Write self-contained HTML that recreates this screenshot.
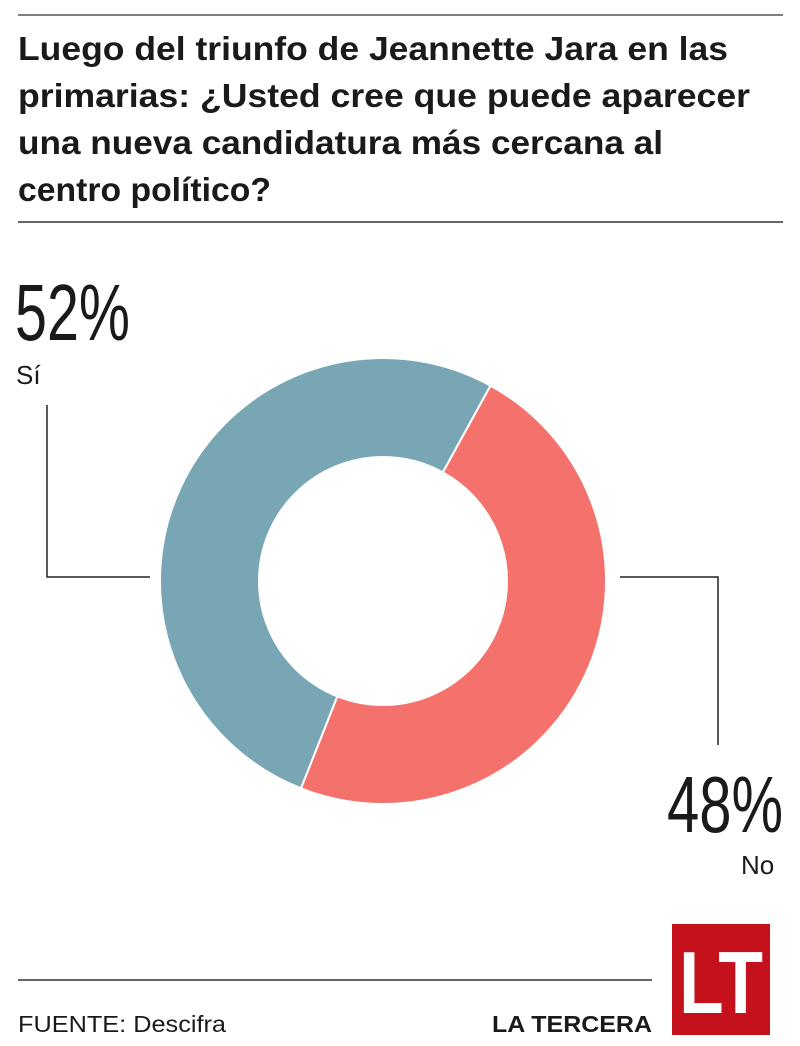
<!DOCTYPE html>
<html><head><meta charset="utf-8"><style>
html,body{margin:0;padding:0;background:#fff;}
svg{display:block;}
text{font-family:"Liberation Sans",sans-serif;fill:#1a1a1a;}
</style></head><body>
<svg width="800" height="1046" viewBox="0 0 800 1046">
<line x1="18" y1="15" x2="783" y2="15" stroke="#555" stroke-width="1.5"/>
<g font-weight="bold" font-size="33">
<text x="18" y="60" textLength="710" lengthAdjust="spacingAndGlyphs">Luego del triunfo de Jeannette Jara en las</text>
<text x="18" y="107" textLength="732" lengthAdjust="spacingAndGlyphs">primarias: ¿Usted cree que puede aparecer</text>
<text x="18" y="154" textLength="645" lengthAdjust="spacingAndGlyphs">una nueva candidatura más cercana al</text>
<text x="18" y="201" textLength="253" lengthAdjust="spacingAndGlyphs">centro político?</text>
</g>
<line x1="18" y1="222" x2="783" y2="222" stroke="#333" stroke-width="1.5"/>
<g id="slices"></g>
<polyline points="47,405 47,577 150,577" fill="none" stroke="#222" stroke-width="1.5"/>
<polyline points="620,577 718,577 718,745" fill="none" stroke="#222" stroke-width="1.5"/>
<text id="pctSi" x="15" y="340" font-size="80" textLength="115" lengthAdjust="spacingAndGlyphs"></text>
<text x="16" y="384" font-size="26">Sí</text>
<text id="pctNo" x="667" y="832" font-size="80" textLength="116" lengthAdjust="spacingAndGlyphs"></text>
<text x="741" y="874" font-size="26">No</text>
<line x1="18" y1="980" x2="652" y2="980" stroke="#333" stroke-width="1.5"/>
<text x="18" y="1032" font-size="23" textLength="208" lengthAdjust="spacingAndGlyphs">FUENTE: Descifra</text>
<text x="492" y="1032" font-size="23" font-weight="bold" textLength="160" lengthAdjust="spacingAndGlyphs">LA TERCERA</text>
<g>
<rect x="672" y="924" width="98" height="111" fill="#c4111b"/>
<text x="721" y="1013" font-size="88" font-weight="bold" text-anchor="middle" style="fill:#fff" textLength="84" lengthAdjust="spacingAndGlyphs">LT</text>
</g>
</svg>
<script>
const categories = ["No", "Sí"];
const values = [48, 52];
const colors = ["#f4726b", "#78a6b4"];
const startAngleDeg = 28.8;
const cx = 383, cy = 581, rOut = 223, rIn = 124;
const g = document.getElementById('slices');
const total = values.reduce((a, b) => a + b, 0);
function pt(r, deg) { const a = deg * Math.PI / 180; return [cx + r * Math.sin(a), cy - r * Math.cos(a)]; }
let ang = startAngleDeg;
values.forEach((v, i) => {
  const sweep = v / total * 360;
  const a0 = ang, a1 = ang + sweep;
  const large = sweep > 180 ? 1 : 0;
  const p0 = pt(rOut, a0), p1 = pt(rOut, a1), p2 = pt(rIn, a1), p3 = pt(rIn, a0);
  const d = `M${p0[0]},${p0[1]} A${rOut},${rOut} 0 ${large} 1 ${p1[0]},${p1[1]} L${p2[0]},${p2[1]} A${rIn},${rIn} 0 ${large} 0 ${p3[0]},${p3[1]} Z`;
  const path = document.createElementNS('http://www.w3.org/2000/svg', 'path');
  path.setAttribute('d', d);
  path.setAttribute('fill', colors[i]);
  path.setAttribute('stroke', '#fff');
  path.setAttribute('stroke-width', '2');
  
  
  g.appendChild(path);
  ang = a1;
});
document.getElementById('pctSi').textContent = values[1] + '%';
document.getElementById('pctNo').textContent = values[0] + '%';
</script>
</body></html>
